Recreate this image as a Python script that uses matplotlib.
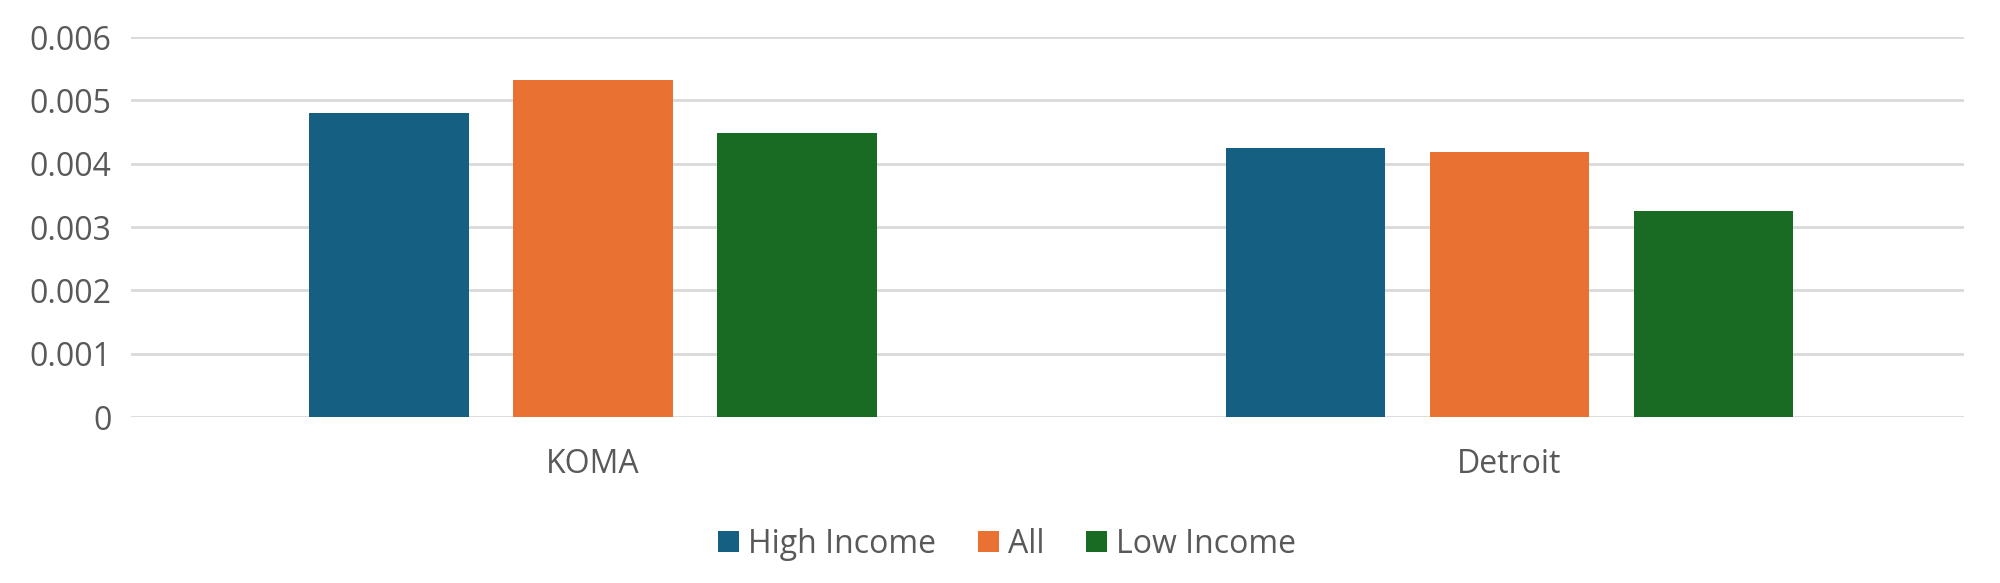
import numpy as np
import matplotlib.pyplot as plt

# data
categories = ["KOMA", "Detroit"]
series_names = ["High Income", "All", "Low Income"]
high_income = [0.00480, 0.00425]
all_values = [0.00532, 0.00419]
low_income = [0.00449, 0.00325]
y_ticks = [0, 0.001, 0.002, 0.003, 0.004, 0.005, 0.006]
y_tick_labels = ["0", "0.001", "0.002", "0.003", "0.004", "0.005", "0.006"]

colors = ["#156082", "#E97132", "#196B24"]
plt.rcParams['font.family'] = ['Open Sans', 'DejaVu Sans']

fig = plt.figure(figsize=(20, 5.83), dpi=100)
ax = fig.add_axes([0.0655, 0.2847, 0.9165, 0.6518])

x = np.arange(len(categories))
width = 0.174
offset = 0.2227
for i, (vals, name) in enumerate(zip([high_income, all_values, low_income], series_names)):
    ax.bar(x + (i - 1) * offset, vals, width, color=colors[i], label=name, zorder=3)

ax.set_xlim(-0.504, 1.496)
ax.set_ylim(0, 0.006)
ax.set_yticks(y_ticks)
ax.set_yticklabels(y_tick_labels)
ax.set_xticks(x)
ax.set_xticklabels(categories)
ax.tick_params(axis='y', length=0, pad=14, labelsize=23, labelcolor="#595959")
ax.tick_params(axis='x', length=0, pad=22, labelsize=23, labelcolor="#595959")
ax.grid(axis='y', color="#d9d9d9", linewidth=2, zorder=0)
for s in ax.spines.values():
    s.set_visible(False)

leg = ax.legend(loc='center', bbox_to_anchor=(0.478, -0.335), ncol=3, frameon=False,
                fontsize=23, handlelength=0.65, handleheight=0.65, handletextpad=0.3,
                columnspacing=1.3)
for t in leg.get_texts():
    t.set_color("#595959")

fig.savefig("out.png", dpi=100, facecolor="white")
